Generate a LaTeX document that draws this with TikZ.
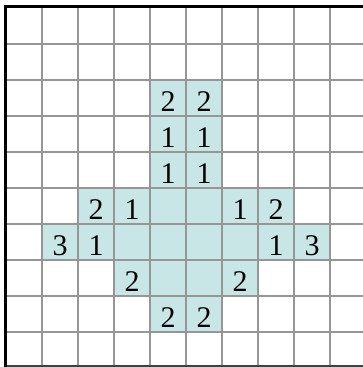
\documentclass[tikz,border=0pt]{standalone}
\usepackage{fontspec}
\setmainfont{Liberation Serif}
\definecolor{cellfill}{RGB}{200,230,230}
\definecolor{gridgray}{RGB}{150,150,150}
\begin{document}
\begin{tikzpicture}[x=1pt,y=-1pt,
  digit/.style={anchor=base, font=\fontsize{30}{30}\selectfont, inner sep=0pt},
  gridline/.style={gridgray, line width=2pt},
  border/.style={black, line width=3pt}]
\useasboundingbox (0,0) rectangle (363,367);
\foreach \c/\r in {4/2,5/2,4/3,5/3,4/4,5/4,2/5,3/5,4/5,5/5,6/5,7/5,1/6,2/6,3/6,4/6,5/6,6/6,7/6,8/6,3/7,4/7,5/7,6/7,4/8,5/8}
  \fill[cellfill] ({6+36*\c},{7.5+36*\r}) rectangle ++(36,36);
\foreach \i in {1,...,9}
  \draw[gridline] ({6+36*\i},7.5) -- ({6+36*\i},367);
\foreach \j in {1,...,9}
  \draw[gridline] (6,{7.5+36*\j}) -- (363,{7.5+36*\j});
\draw[black!75, line width=1.5pt] (5,366) -- (363,366);
\draw[border] (5,5) -- (5,367);
\draw[border] (3.5,6.5) -- (363,6.5);
\foreach \c/\r/\t [count=\k] in {4/2/2,5/2/2,4/3/1,5/3/1,4/4/1,5/4/1,2/5/2,3/5/1,6/5/1,7/5/2,1/6/3,2/6/1,7/6/1,8/6/3,3/7/2,6/7/2,4/8/2,5/8/2}
  \node[digit] (d\k) at ({24+36*\c},{39+36*\r}) {\t};
\end{tikzpicture}
\end{document}
